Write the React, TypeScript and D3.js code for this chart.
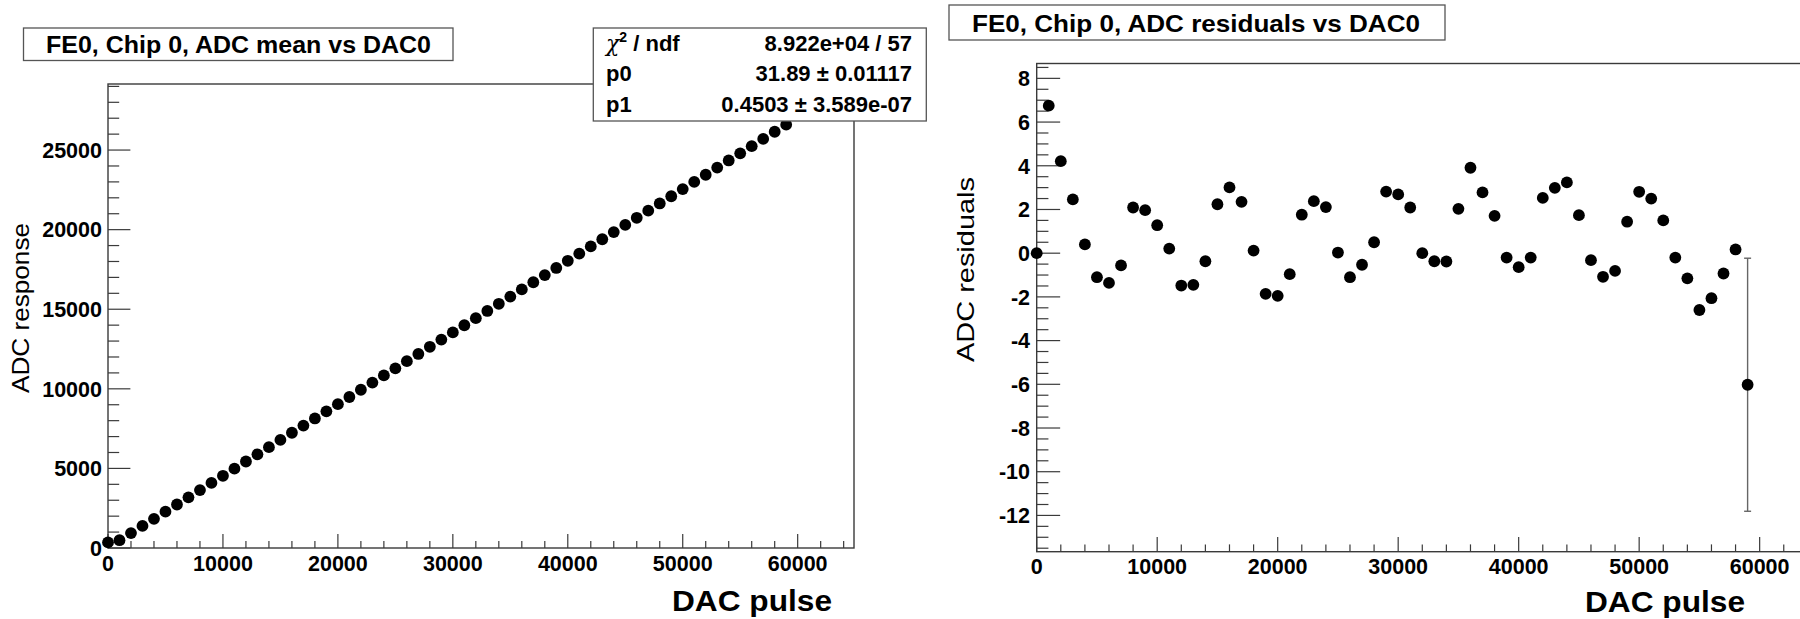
import React from 'react';
import * as d3 from 'd3';

// ---------- data ----------
const dacPulse = [
  0, 1000, 2000, 3000, 4000, 5000, 6000, 7000, 8000, 9000,
  10000, 11000, 12000, 13000, 14000, 15000, 16000, 17000, 18000, 19000,
  20000, 21000, 22000, 23000, 24000, 25000, 26000, 27000, 28000, 29000,
  30000, 31000, 32000, 33000, 34000, 35000, 36000, 37000, 38000, 39000,
  40000, 41000, 42000, 43000, 44000, 45000, 46000, 47000, 48000, 49000,
  50000, 51000, 52000, 53000, 54000, 55000, 56000, 57000, 58000, 59000,
];

const adcMean = [
  350, 488.9, 936.7, 1385.3, 1833.5, 2282.3, 2732.3, 3183.4, 3636.4, 4086.6,
  4536.2, 4985.4, 5434.0, 5884.3, 6335.7, 6788.6, 7239.7, 7689.3, 8137.4, 8585.7,
  9035.9, 9487.2, 9940.3, 10391.2, 10841.2, 11289.4, 11738.6, 12189.5, 12640.8, 13093.4,
  13543.6, 13993.3, 14441.5, 14891.4, 15341.7, 15794.4, 16246.6, 16695.8, 17145.0, 17593.4,
  18043.3, 18494.0, 18947.0, 19397.8, 19848.3, 20297.1, 20745.4, 21194.9, 21645.5, 22098.0,
  22549.7, 22999.7, 23449.0, 23897.6, 24346.9, 24795.8, 25246.6, 25698.1, 26149.5, 26593.6,
];

const adcResidual = [
  0, 6.75, 4.21, 2.46, 0.40, -1.10, -1.36, -0.56, 2.09, 1.97,
  1.28, 0.21, -1.48, -1.45, -0.37, 2.24, 3.01, 2.35, 0.12, -1.86,
  -1.95, -0.96, 1.76, 2.38, 2.11, 0.03, -1.10, -0.53, 0.50, 2.82,
  2.69, 2.09, 0.0, -0.37, -0.38, 2.03, 3.91, 2.78, 1.71, -0.20,
  -0.64, -0.20, 2.53, 2.99, 3.24, 1.74, -0.32, -1.08, -0.81, 1.44,
  2.81, 2.50, 1.50, -0.20, -1.15, -2.60, -2.06, -0.93, 0.17, -6.02,
];

const residualError = [
  0, 0, 0, 0, 0, 0, 0, 0, 0, 0,
  0, 0, 0, 0, 0, 0, 0, 0, 0, 0,
  0, 0, 0, 0, 0, 0, 0, 0, 0, 0,
  0, 0, 0, 0, 0, 0, 0, 0, 0, 0,
  0, 0, 0, 0, 0, 0, 0, 0, 0, 0,
  0, 0, 0, 0, 0, 0, 0, 0, 0, 5.79,
];

const dacTicks = [0, 10000, 20000, 30000, 40000, 50000, 60000];
const meanTicks = [0, 5000, 10000, 15000, 20000, 25000];
const residualTicks = [-12, -10, -8, -6, -4, -2, 0, 2, 4, 6, 8];

const leftTitle = 'FE0, Chip 0, ADC mean vs DAC0';
const rightTitle = 'FE0, Chip 0, ADC residuals vs DAC0';
const xTitle = 'DAC pulse';
const leftYTitle = 'ADC response';
const rightYTitle = 'ADC residuals';
const statsLabels = ['p0', 'p1'];
const statsValues = ['8.922e+04 / 57', '31.89 \u00b1 0.01117', '0.4503 \u00b1 3.589e-07'];

// ---------- styles ----------
const FRAME = '#3a3a3a';
const FONT = '"Liberation Sans", Arial, Helvetica, sans-serif';
const R = 5.9;

type PanelCfg = {
  left: number; right: number; top: number; bottom: number;
  xDomain: [number, number]; yDomain: [number, number];
  yTicks: number[]; yMinorStep: number; yMinorFrom: number; yMinorTo: number;
  yLabelRight: number;
};

function Axes({ cfg, x, y }: { cfg: PanelCfg; x: d3.ScaleLinear<number, number>; y: d3.ScaleLinear<number, number> }) {
  const majorX = (cfg.bottom - cfg.top) * 0.03;
  const majorY = (cfg.right - cfg.left) * 0.03;
  const xMinor = d3.range(0, 64001, 2000);
  const yMinor = d3.range(cfg.yMinorFrom, cfg.yMinorTo + 1e-9, cfg.yMinorStep);
  const fmt = (v: number) => String(v);
  return (
    <g>
      <rect x={cfg.left} y={cfg.top} width={cfg.right - cfg.left} height={cfg.bottom - cfg.top}
        fill="none" stroke={FRAME} strokeWidth={1.4} />
      {xMinor.map((v) => {
        const isMajor = v % 10000 === 0;
        return (
          <line key={'xm' + v} x1={x(v)} x2={x(v)} y1={cfg.bottom}
            y2={cfg.bottom - (isMajor ? majorX : majorX / 2)} stroke={FRAME} strokeWidth={1.2} />
        );
      })}
      {yMinor.map((v, i) => {
        const isMajor = cfg.yTicks.some((t) => Math.abs(t - v) < 1e-6);
        return (
          <line key={'ym' + i} x1={cfg.left} x2={cfg.left + (isMajor ? majorY : majorY / 2)}
            y1={y(v)} y2={y(v)} stroke={FRAME} strokeWidth={1.2} />
        );
      })}
      {dacTicks.map((v) => (
        <text key={'xl' + v} x={x(v)} y={cfg.bottom + 22.5} textAnchor="middle"
          fontFamily={FONT} fontWeight="bold" fontSize={21.5} fill="#000">{fmt(v)}</text>
      ))}
      {cfg.yTicks.map((v) => (
        <text key={'yl' + v} x={cfg.yLabelRight} y={y(v)} dy="0.36em" textAnchor="end"
          fontFamily={FONT} fontWeight="bold" fontSize={21.5} fill="#000">{fmt(v)}</text>
      ))}
    </g>
  );
}

export default function App() {
  // Left panel
  const L: PanelCfg = {
    left: 108, right: 854, top: 84, bottom: 548,
    xDomain: [0, 64900], yDomain: [0, 29150],
    yTicks: meanTicks, yMinorStep: 1000, yMinorFrom: 0, yMinorTo: 29000,
    yLabelRight: 102,
  };
  const xL = d3.scaleLinear().domain(L.xDomain).range([L.left, L.right]);
  const yL = d3.scaleLinear().domain(L.yDomain).range([L.bottom, L.top]);

  // Right panel
  const Rg: PanelCfg = {
    left: 1036.7, right: 1818.7, top: 63.5, bottom: 551.7,
    xDomain: [0, 64900], yDomain: [-13.66, 8.68],
    yTicks: residualTicks, yMinorStep: 0.5, yMinorFrom: -13.5, yMinorTo: 8.5,
    yLabelRight: 1030,
  };
  const xR = d3.scaleLinear().domain(Rg.xDomain).range([Rg.left, Rg.right]);
  const yR = d3.scaleLinear().domain(Rg.yDomain).range([Rg.bottom, Rg.top]);

  return (
    <svg width={1800} height={619} viewBox="0 0 1800 619"
      style={{ position: 'absolute', left: 0, top: 0, background: '#fff' }}>
      <rect x={0} y={0} width={1800} height={619} fill="#fff" />

      {/* ---------- Left panel ---------- */}
      <Axes cfg={L} x={xL} y={yL} />
      {dacPulse.map((d, i) => (
        <circle key={'lp' + i} cx={xL(d)} cy={yL(adcMean[i])} r={R} fill="#000" />
      ))}
      <text x={832} y={610.5} textAnchor="end" fontFamily={FONT} fontWeight="bold"
        fontSize={30} textLength={160} lengthAdjust="spacingAndGlyphs">{xTitle}</text>
      <text transform="translate(29,308) rotate(-90)" textAnchor="middle" fontFamily={FONT}
        fontSize={23} textLength={170} lengthAdjust="spacingAndGlyphs">{leftYTitle}</text>

      {/* title box */}
      <rect x={23.5} y={28} width={429.5} height={32.5} fill="#fff" stroke="#555" strokeWidth={1.3} />
      <text x={46} y={53.3} fontFamily={FONT} fontWeight="bold" fontSize={23}
        textLength={385} lengthAdjust="spacingAndGlyphs">{leftTitle}</text>

      {/* stats box */}
      <rect x={593.3} y={28} width={333} height={93} fill="#fff" stroke="#555" strokeWidth={1.3} />
      <text x={606} y={50.7} fontFamily={FONT} fontWeight="bold" fontSize={22}>
        <tspan fontWeight="normal" fontFamily='"DejaVu Serif", serif' fontStyle="italic">{'\u03c7'}</tspan>
        <tspan dy={-9} fontSize={14}>2</tspan>
        <tspan dy={9}>{' / ndf'}</tspan>
      </text>
      {statsLabels.map((s, i) => (
        <text key={'sl' + i} x={606} y={81 + i * 30.7} fontFamily={FONT} fontWeight="bold" fontSize={22}>{s}</text>
      ))}
      {statsValues.map((s, i) => (
        <text key={'sv' + i} x={912} y={50.7 + i * 30.5} textAnchor="end" fontFamily={FONT}
          fontWeight="bold" fontSize={22}>{s}</text>
      ))}

      {/* ---------- Right panel ---------- */}
      <Axes cfg={Rg} x={xR} y={yR} />
      {dacPulse.map((d, i) => residualError[i] > 0 ? (
        <g key={'eb' + i}>
          <line x1={xR(d)} x2={xR(d)} y1={yR(adcResidual[i] + residualError[i])}
            y2={yR(adcResidual[i] - residualError[i])} stroke="#666" strokeWidth={1.4} />
          <line x1={xR(d) - 3.5} x2={xR(d) + 3.5} y1={yR(adcResidual[i] + residualError[i])}
            y2={yR(adcResidual[i] + residualError[i])} stroke="#666" strokeWidth={1.4} />
          <line x1={xR(d) - 3.5} x2={xR(d) + 3.5} y1={yR(adcResidual[i] - residualError[i])}
            y2={yR(adcResidual[i] - residualError[i])} stroke="#666" strokeWidth={1.4} />
        </g>
      ) : null)}
      {dacPulse.map((d, i) => (
        <circle key={'rp' + i} cx={xR(d)} cy={yR(adcResidual[i])} r={R} fill="#000" />
      ))}
      <text x={1745} y={611.5} textAnchor="end" fontFamily={FONT} fontWeight="bold"
        fontSize={30} textLength={160} lengthAdjust="spacingAndGlyphs">{xTitle}</text>
      <text transform="translate(973.5,269.5) rotate(-90)" textAnchor="middle" fontFamily={FONT}
        fontSize={24.5} textLength={185} lengthAdjust="spacingAndGlyphs">{rightYTitle}</text>

      <rect x={949} y={5} width={496} height={35} fill="#fff" stroke="#555" strokeWidth={1.3} />
      <text x={972} y={31.7} fontFamily={FONT} fontWeight="bold" fontSize={24}
        textLength={448} lengthAdjust="spacingAndGlyphs">{rightTitle}</text>
    </svg>
  );
}
